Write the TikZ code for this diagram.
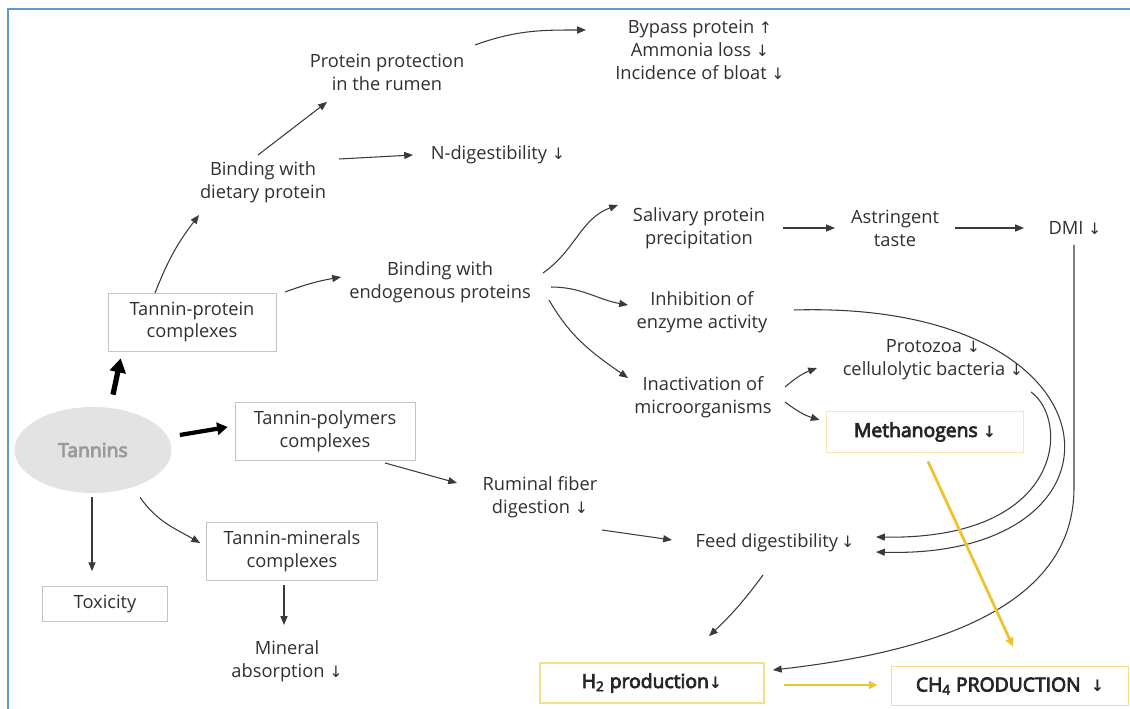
\documentclass[tikz,border=0pt]{standalone}
\usepackage{fontspec}
\setmainfont{Open Sans}[AutoFakeBold=4]
\newfontfamily\arrowfont{DejaVu Sans}
\usetikzlibrary{arrows.meta,shapes.geometric}

\definecolor{txt}{HTML}{303030}
\definecolor{boxgray}{HTML}{C4C4C4}
\definecolor{linegray}{HTML}{3A3A3A}
\definecolor{tanfill}{HTML}{E3E3E3}
\definecolor{tantext}{HTML}{9A9A9A}
\definecolor{ylbox}{HTML}{F3DE8E}
\definecolor{yarrow}{HTML}{EEC230}
\definecolor{frameblue}{HTML}{5B9BD5}

\newcommand{\dnar}{{\arrowfont\small↓}}
\newcommand{\upar}{{\arrowfont\small↑}}

\tikzset{
    lbl/.style={font=\fontsize{10.4}{13}\selectfont, text=txt, align=center, inner sep=1pt},
    box/.style={lbl, draw=boxgray, rectangle, inner sep=0pt},
    ybox/.style={box, draw=ylbox, line width=1pt, font=\fontsize{11}{13}\selectfont\bfseries, text=black!85},
    arr/.style={draw=linegray, line width=0.6pt, -{Triangle[length=5pt,width=4pt]}},
    bigarr/.style={draw=black, line width=2.4pt, -{Triangle[length=6pt,width=7pt]}},
    yarr/.style={draw=yarrow, line width=1.6pt, -{Triangle[length=5pt,width=4.5pt]}}
}

\begin{document}
\begin{tikzpicture}[x=0.02cm,y=-0.02cm]
    \useasboundingbox (0,0) rectangle (1130,709);
    \draw[frameblue, line width=1.4pt] (8,709) -- (8,9) -- (1130,9);

    % tannins and the complexes
    \node[ellipse, fill=tanfill, minimum width=3.14cm, minimum height=1.72cm,
          font=\fontsize{11}{13}\selectfont\bfseries, text=tantext] (TAN) at (93,450) {Tannins};
    \begin{scope}[every node/.style={box}]
        \node[minimum width=3.36cm, minimum height=1.16cm] (TP) at (192,322) {Tannin-protein\\complexes};
        \node[minimum width=3.6cm, minimum height=1.16cm] (TPOL) at (325,431) {Tannin-polymers\\complexes};
        \node[minimum width=3.42cm, minimum height=1.16cm] (TMIN) at (292,551) {Tannin-minerals\\complexes};
        \node[minimum width=2.5cm, minimum height=0.7cm] (TOX) at (105,604) {Toxicity};
    \end{scope}
    \begin{scope}[every node/.style={ybox}]
        \node[minimum width=3.94cm, minimum height=0.82cm, draw=ylbox!70] (METH) at (925,432) {Methanogens\ \dnar};
        \node[minimum width=4.48cm, minimum height=0.8cm] (H2) at (652,683) {H\textsubscript{2} production\dnar};
        \node[minimum width=4.74cm, minimum height=0.78cm] (CH4) at (1010,686) {CH\textsubscript{4} PRODUCTION\ \ \dnar};
    \end{scope}

    % effects
    \begin{scope}[every node/.style={lbl}]
        \node (BYP) at (700,50) {Bypass protein\ \upar\\Ammonia loss\ \dnar\\Incidence of bloat\ \dnar};
        \node (PPROT) at (387,72) {Protein protection\\in the rumen};
        \node (BDIET) at (263,182) {Binding with\\dietary protein};
        \node (NDIG) at (498,155) {N-digestibility\ \dnar};
        \node (BEND) at (440,282) {Binding with\\endogenous proteins};
        \node (SAL) at (699,228) {Salivary protein\\precipitation};
        \node (ASTR) at (895,228) {Astringent\\taste};
        \node (DMI) at (1075,228) {DMI\ \dnar};
        \node (INH) at (702,312) {Inhibition of\\enzyme activity};
        \node (INACT) at (703,397) {Inactivation of\\microorganisms};
        \node (PROTO) at (933,360) {Protozoa\ \dnar\\cellulolytic bacteria\ \dnar};
        \node (RUM) at (540,497) {Ruminal fiber\\digestion\ \dnar};
        \node (FEED) at (775,543) {Feed digestibility\,\dnar};
        \node (MABS) at (287,661) {Mineral\\absorption\ \dnar};
    \end{scope}

    % heavy arrows out of the tannins
    \draw[bigarr, line width=3pt, -{Triangle[length=8pt,width=9pt]}] ([shift={(20,-12)}]TAN.north) -- ([shift={(13,7)}]TP.south west);
    \draw[bigarr] ([shift={(8,-15)}]TAN.east) -- ([shift={(-7,-4)}]TPOL.west);

    \begin{scope}[every edge/.style={arr}]
        \path ([shift={(-1,4)}]TAN.south) edge ([shift={(-13,-15)}]TOX.north);
        \path ([shift={(47,4)}]TAN.south) edge[out=-55, in=150] ([shift={(-6,-8)}]TMIN.west);
        \path ([shift={(-8,5)}]TMIN.south) edge ([shift={(-3,-36)}]MABS.center);
        \path ([shift={(60,32)}]TPOL.center) edge ([shift={(-83,-14)}]RUM.center);
        \path ([shift={(-37,-29)}]TP.center) edge[bend left=8] ([shift={(-64,33)}]BDIET.center);
        \path ([shift={(93,-30)}]TP.center) edge[bend left=5] ([shift={(-99,-5)}]BEND.center);
        \path ([shift={(-5,-27)}]BDIET.center) edge ([shift={(-60,30)}]PPROT.center);
        \path ([shift={(76,-23)}]BDIET.center) edge ([shift={(-85,0)}]NDIG.center);
        \path ([shift={(88,-27)}]PPROT.center) edge[out=20, in=180] ([shift={(-114,-20)}]BYP.center);
        \path ([shift={(103,-9)}]BEND.center) edge[out=35, in=200] ([shift={(-81,-23)}]SAL.center);
        \path ([shift={(111,5)}]BEND.center) edge[out=0, in=170] ([shift={(-74,-7)}]INH.center);
        \path ([shift={(109,18)}]BEND.center) edge[out=-60, in=145] ([shift={(-75,-19)}]INACT.center);
        \path ([shift={(84,0)}]SAL.center) edge ([shift={(-60,0)}]ASTR.center);
        \path ([shift={(60,0)}]ASTR.center) edge ([shift={(-51,0)}]DMI.center);
        \path ([shift={(82,-10)}]INACT.center) edge[bend left=10] ([shift={(-116,8)}]PROTO.center);
        \path ([shift={(82,5)}]INACT.center) edge[bend right=10] ([shift={(-6,-12)}]METH.west);
        \path ([shift={(62,33)}]RUM.center) edge ([shift={(-103,-3)}]FEED.center);
        \path ([shift={(-12,32)}]FEED.center) edge[bend left=5] ([shift={(57,-26)}]H2.north);
    \end{scope}

    % long loops back to feed digestibility and H2
    \draw[arr] ([shift={(92,-2)}]INH.center) .. controls (1130,300) and (1145,560) .. ([shift={(101,9)}]FEED.center);
    \draw[arr] ([shift={(98,32)}]PROTO.center) .. controls (1070,420) and (1065,540) .. ([shift={(101,-6)}]FEED.center);
    \draw[arr] ([shift={(-1,17)}]DMI.center) -- ([shift={(-1,260)}]DMI.center)
        .. controls (1074,600) and (950,650) .. ([shift={(8,-13)}]H2.east);

    % methane pathway
    \draw[yarr] ([shift={(3,8)}]METH.south) -- ([shift={(3,-19)}]CH4.north);
    \draw[yarr] ([shift={(19,2)}]H2.east) -- ([shift={(-13,-1)}]CH4.west);
\end{tikzpicture}
\end{document}
